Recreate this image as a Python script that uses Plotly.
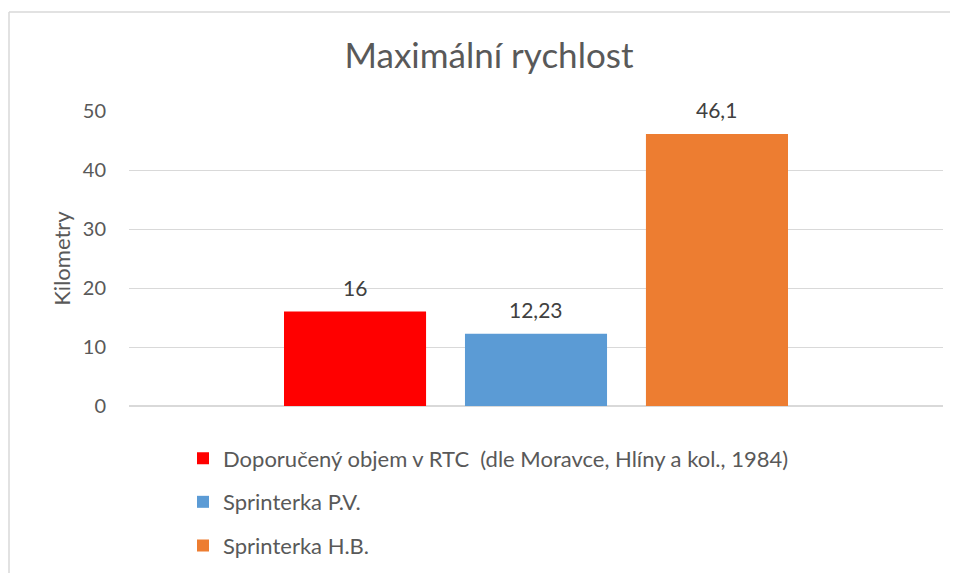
import plotly.graph_objects as go

series_names = ["Doporučený objem v RTC  (dle Moravce, Hlíny a kol., 1984)", "Sprinterka P.V.", "Sprinterka H.B."]
values = [16, 12.23, 46.1]
colors = ["#FF0000", "#5B9BD5", "#ED7D31"]
positions = [0, 1, 2]
y_ticks = [0, 10, 20, 30, 40, 50]

FONT = "Lato"
OFF = 8  # page body margin
W, H = 958 - 2 * OFF, 581 - 2 * OFF
L, T = 129 - OFF, 111 - OFF
R = W - (943 - OFF)
B = H - (409 - OFF)
pw, ph = W - L - R, H - T - B

def px_x(p):
    return (p - OFF - L) / pw

def px_y(p):
    return (H - B - (p - OFF)) / ph

fig = go.Figure()
legend_ids = ["legend", "legend2", "legend3"]
legend_rows = [462, 506, 550]
for name, v, c, lg, pos in zip(series_names, values, colors, legend_ids, positions):
    fig.add_trace(go.Bar(
        x=[pos], y=[v], name=name, width=0.785,
        marker=dict(color=c, line=dict(width=0)),
        legend=lg, hoverinfo="skip",
    ))
    fig.add_annotation(x=pos, y=v, xref="x", yref="y", text=("%g" % v).replace(".", ","),
                       showarrow=False, yanchor="bottom", yshift=10,
                       font=dict(family=FONT, size=21, color="#404040"))

legend_common = dict(font=dict(family=FONT, size=22, color="#595959"), bgcolor="rgba(0,0,0,0)",
                     xanchor="left", yanchor="middle", borderwidth=0)
lay = {}
for lg, row in zip(legend_ids, legend_rows):
    lay[lg] = dict(x=px_x(183), y=px_y(row), **legend_common)

border = dict(color="#D9D9D9", width=1.5)
fig.update_layout(
    width=W, height=H,
    margin=dict(l=L, r=R, t=T, b=B),
    paper_bgcolor="white", plot_bgcolor="white",
    title=dict(text="Maximální rychlost", x=(489 - OFF) / W, xanchor="center", y=1 - (56 - OFF) / H, yanchor="middle",
               font=dict(family=FONT, size=35, color="#595959")),
    barmode="overlay",
    showlegend=True,
    xaxis=dict(range=[-1.249, 3.249], showticklabels=False, showgrid=False, zeroline=False, showline=False, fixedrange=True),
    yaxis=dict(range=[0, 50], tickvals=y_ticks, ticktext=[str(t) for t in y_ticks],
               showgrid=True, gridcolor="#D9D9D9", gridwidth=1, zeroline=True, zerolinecolor="#D9D9D9",
               showline=False, ticks="", ticklabelstandoff=22,
               tickfont=dict(family=FONT, size=20, color="#595959"),
               title=dict(text="Kilometry", font=dict(family=FONT, size=22, color="#595959"), standoff=6)),
    shapes=[
        dict(type="line", xref="paper", yref="paper", x0=px_x(9), x1=px_x(970), y0=px_y(11), y1=px_y(11), line=border, layer="below"),
        dict(type="line", xref="paper", yref="paper", x0=px_x(9), x1=px_x(9), y0=px_y(11), y1=px_y(600), line=border, layer="below"),
    ],
    **lay,
)

fig.write_html("out.html")
